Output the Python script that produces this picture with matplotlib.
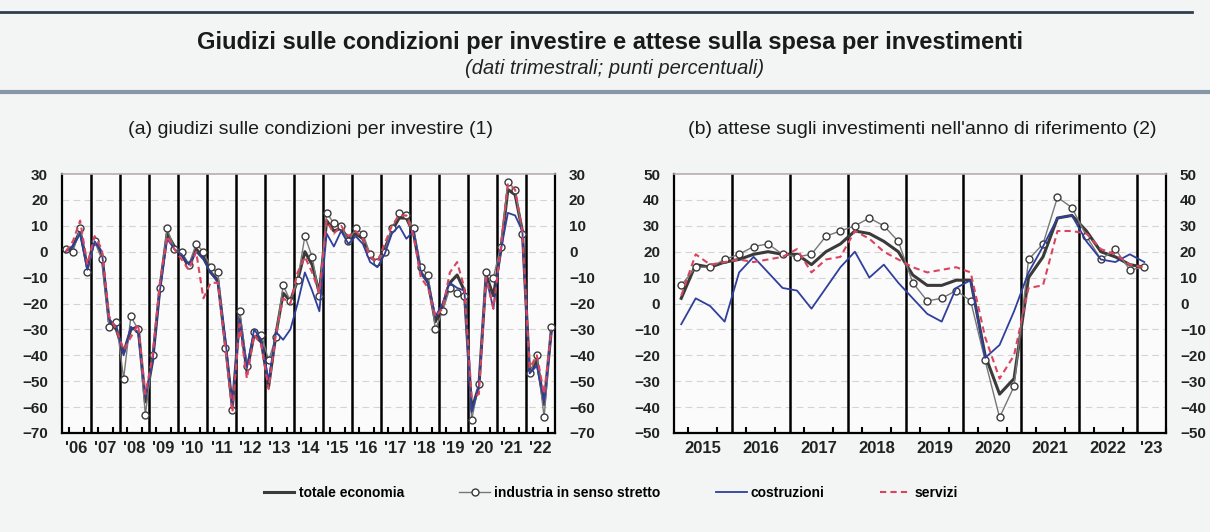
import numpy as np
import matplotlib.pyplot as plt
from matplotlib.lines import Line2D

plt.rcParams['font.family'] = ['Liberation Sans', 'DejaVu Sans']

# (a) giudizi sulle condizioni per investire, trimestrale 2006Q1-2022Q4
years_a = list(range(2006, 2023))
labels_a = ["'06", "'07", "'08", "'09", "'10", "'11", "'12", "'13", "'14", "'15",
            "'16", "'17", "'18", "'19", "'20", "'21", "'22"]
tot_a = [0, 2, 8, -6, 5, -1, -27, -30, -39, -30, -29, -58, -42, -14, 7, 2,
         -1, -6, 1, -2, -8, -11, -35, -60, -25, -46, -32, -35, -52, -32, -16, -19,
         -11, 0, -5, -16, 12, 8, 9, 5, 7, 5, -2, -4, 1, 8, 13, 13,
         7, -8, -12, -27, -21, -12, -9, -15, -61, -52, -9, -17, 0, 24, 22, 8,
         -47, -42, -59, -30]
ind_a = [1, 0, 9, -8, 4, -3, -29, -27, -49, -25, -30, -63, -40, -14, 9, 1,
         0, -5, 3, 0, -6, -8, -37, -61, -23, -44, -31, -32, -42, -33, -13, -19,
         -11, 6, -2, -17, 15, 11, 10, 4, 9, 7, -1, -4, 0, 9, 15, 14,
         9, -6, -9, -30, -23, -14, -16, -17, -65, -51, -8, -10, 2, 27, 24, 7,
         -47, -40, -64, -29]
cos_a = [0, 2, 7, -7, 4, 0, -26, -29, -40, -29, -31, -56, -42, -15, 5, 1,
         -1, -5, 0, -3, -8, -12, -33, -60, -26, -45, -30, -34, -50, -31, -34, -30,
         -20, -8, -15, -23, 7, 2, 8, 3, 6, 3, -4, -6, -1, 7, 10, 5,
         8, -8, -12, -25, -20, -12, -14, -15, -62, -52, -10, -22, 0, 15, 14, 8,
         -47, -44, -58, -31]
ser_a = [0, 4, 12, -5, 6, 1, -25, -30, -38, -33, -28, -55, -40, -12, 6, 1,
         -3, -7, 0, -18, -12, -12, -36, -62, -28, -49, -32, -36, -53, -32, -18, -20,
         -8, -2, -8, -16, 12, 7, 10, 6, 8, 5, -2, -4, 3, 10, 14, 14,
         6, -10, -14, -25, -22, -8, -4, -14, -56, -55, -10, -22, 1, 26, 24, 8,
         -45, -40, -55, -30]

# (b) attese sugli investimenti, trimestrale 2015Q1-2023Q1
years_b = list(range(2015, 2024))
labels_b = ['2015', '2016', '2017', '2018', '2019', '2020', '2021', '2022', "'23"]
tot_b = [2, 15, 14, 16, 17, 19, 20, 19, 19, 15, 20, 23, 28, 27, 24, 20,
         11, 7, 7, 9, 9, -20, -35, -29, 10, 18, 33, 34, 28, 20, 18, 15, 14]
ind_b = [7, 14, 14, 17, 19, 22, 23, 19, 18, 19, 26, 28, 30, 33, 30, 24,
         8, 1, 2, 5, 1, -22, -44, -32, 17, 23, 41, 37, 26, 17, 21, 13, 14]
cos_b = [-8, 2, -1, -7, 12, 18, 12, 6, 5, -2, 6, 14, 20, 10, 15, 8,
         2, -4, -7, 6, 9, -21, -16, -3, 12, 22, 33, 34, 24, 17, 16, 19, 16]
ser_b = [3, 19, 15, 16, 17, 16, 17, 18, 21, 12, 17, 18, 28, 25, 20, 17,
         14, 12, 13, 14, 12, -13, -29, -20, 6, 7, 28, 28, 27, 21, 19, 15, 14]

names = ['totale economia', 'industria in senso stretto', 'costruzioni', 'servizi']
styles = [dict(color='#3a3a3a', lw=2.2),
          dict(color='#777777', lw=1.0, marker='o', ms=5, mfc='white', mec='#3a3a3a', mew=1.0),
          dict(color='#2f3f9c', lw=1.3),
          dict(color='#d8455e', lw=1.5, ls=(0, (3, 2)))]

fig = plt.figure(figsize=(12.1, 5.32), dpi=100, facecolor='#f3f5f5')
W, H = 1210, 532


def panel(ax, x0, x1, years, labels, series, ylo, yhi):
    x = x0 + 0.125 + np.arange(len(series[0])) * 0.25
    ax.set_facecolor('#fbfbfb')
    for y in range(ylo + 10, yhi, 10):
        ax.axhline(y, color='#d4d4d4', lw=0.8, ls=(0, (6, 4)), zorder=0)
    for yr in years[1:]:
        if yr < x1:
            ax.axvline(yr, color='black', lw=1.8, zorder=1)
    for s, st in zip(series, styles):
        ax.plot(x, s, zorder=3, **st)
    ax.set_xlim(x0, x1)
    ax.set_ylim(ylo, yhi)
    ax.set_yticks(range(ylo, yhi + 1, 10))
    centers = [min(yr + 0.5, (yr + x1) / 2) for yr in years]
    ax.set_xticks(centers)
    ax.set_xticklabels(labels)
    q = np.arange(x0, x1 + 0.01, 0.25)
    ax.set_xticks([v for v in q if v % 1 != 0], minor=True)
    ax.tick_params(axis='x', which='major', length=0, pad=6, labelsize=12)
    ax.tick_params(axis='x', which='minor', direction='in', length=4, width=1.5, color='black')
    ax.tick_params(axis='y', length=0, pad=10, labelsize=11, labelright=True)
    for lab in ax.get_xticklabels() + ax.get_yticklabels():
        lab.set_fontweight('bold')
        lab.set_color('#222222')
    for sp in ['left', 'right', 'bottom']:
        ax.spines[sp].set_color('black')
        ax.spines[sp].set_linewidth(1.6)
    ax.spines['top'].set_color('#b8aeae')
    ax.spines['top'].set_linewidth(1.2)


ax1 = fig.add_axes([62 / W, 99 / H, 493 / W, 259 / H])
panel(ax1, 2006, 2023, years_a, labels_a, [tot_a, ind_a, cos_a, ser_a], -70, 30)
ax2 = fig.add_axes([674 / W, 99 / H, 492 / W, 259 / H])
panel(ax2, 2015, 2023.5, years_b, labels_b, [tot_b, ind_b, cos_b, ser_b], -50, 50)

fig.add_artist(Line2D([0, 0.985], [1 - 12 / H] * 2, color='#2f3e4c', lw=2))
fig.add_artist(Line2D([0, 1], [1 - 92 / H] * 2, color='#8597a6', lw=3))

fig.text(610 / W, 1 - 43 / H, 'Giudizi sulle condizioni per investire e attese sulla spesa per investimenti',
         ha='center', va='center', fontsize=17, fontweight='bold', color='#1a1a1a')
fig.text(615 / W, 1 - 68 / H, '(dati trimestrali; punti percentuali)',
         ha='center', va='center', fontsize=14.5, style='italic', color='#222222')
fig.text(310 / W, 1 - 130 / H, '(a) giudizi sulle condizioni per investire (1)',
         ha='center', va='center', fontsize=14, color='#1a1a1a')
fig.text(922 / W, 1 - 130 / H, "(b) attese sugli investimenti nell'anno di riferimento (2)",
         ha='center', va='center', fontsize=14, color='#1a1a1a')

handles = [Line2D([], [], **st) for st in styles]
leg = fig.legend(handles, names, loc='center', bbox_to_anchor=(0.505, 1 - 493 / H), ncol=4,
                 frameon=False, fontsize=10, handlelength=2.2, handletextpad=0.3, columnspacing=4)
for t in leg.get_texts():
    t.set_fontweight('bold')

fig.savefig('out.png', dpi=100, facecolor=fig.get_facecolor())
